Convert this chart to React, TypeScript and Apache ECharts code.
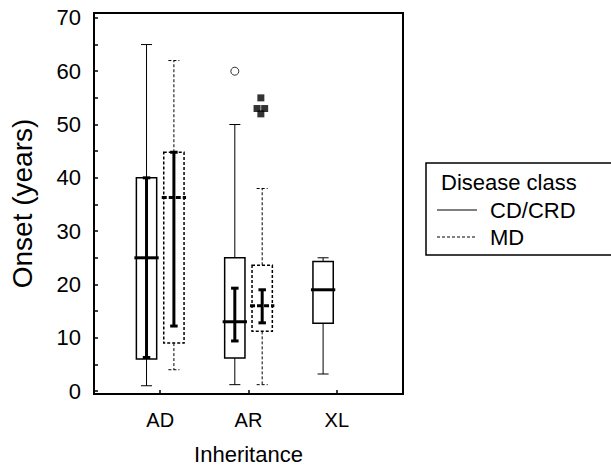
import React, { useEffect, useRef } from "react";
import * as echarts from "echarts";

const categories = ["AD", "AR", "XL"];
// [min, q1, median, q3, max] per category (null = group absent)
const cdBoxes: (number[] | null)[] = [
  [1, 6, 25, 40, 65],
  [1.2, 6.2, 13, 25, 50],
  [3.2, 12.7, 19, 24.3, 25],
];
const mdBoxes: (number[] | null)[] = [
  [4, 9, 36.3, 44.8, 62],
  [1.2, 11.2, 16, 23.6, 38],
  null,
];
// confidence interval of the median [low, high]
const cdCI: (number[] | null)[] = [[6.3, 40], [9.4, 19.3], null];
const mdCI: (number[] | null)[] = [[12.2, 44.8], [12.8, 19], null];
// outliers: [categoryIndex, value]
const cdOutliers = [[1, 60]];
// extremes: [categoryIndex, value, jitter step]
const mdExtremes = [
  [1, 55, 0],
  [1, 53, -1],
  [1, 53, 1],
  [1, 52, 0],
];
const yTicks = [0, 10, 20, 30, 40, 50, 60, 70];
const yMinorTicks = [0, 5, 10, 15, 20, 25, 30, 35, 40, 45, 50, 55, 60, 65, 70];

const OFFSET = 0.155;
const BOX_W = 0.23;
const CAP_W = 0.125;
const CI_CAP_W = 0.085;
const FONT = "'Liberation Sans', Arial, sans-serif";

function makeRender(dashed: boolean) {
  return (params: any, api: any) => {
    const x = api.value(0);
    const vals = [1, 2, 3, 4, 5].map((i) => api.value(i));
    const ciLo = api.value(6);
    const ciHi = api.value(7);
    const [mn, q1, md, q3, mx] = vals;
    const c = (v: number) => api.coord([x, v]);
    const cx = c(md)[0];
    const hb = api.size([BOX_W, 0])[0] / 2;
    const hc = api.size([CAP_W, 0])[0] / 2;
    const hci = api.size([CI_CAP_W, 0])[0] / 2;
    const dash = dashed ? [3, 2] : undefined;
    const thin = { stroke: "#000", lineWidth: 1, lineDash: dash, fill: null };
    const children: any[] = [];
    const line = (x1: number, y1: number, x2: number, y2: number, style: any) =>
      children.push({ type: "line", shape: { x1, y1, x2, y2 }, style });
    const yMin = c(mn)[1], yQ1 = c(q1)[1], yMd = c(md)[1], yQ3 = c(q3)[1], yMx = c(mx)[1];
    line(cx, yQ3, cx, yMx, thin);
    line(cx - hc, yMx, cx + hc, yMx, thin);
    line(cx, yQ1, cx, yMin, thin);
    line(cx - hc, yMin, cx + hc, yMin, thin);
    children.push({
      type: "rect",
      shape: { x: cx - hb, y: yQ3, width: hb * 2, height: yQ1 - yQ3 },
      style: { stroke: "#000", lineWidth: 1.5, lineDash: dash, fill: "rgba(0,0,0,0)" },
    });
    if (!isNaN(ciLo) && !isNaN(ciHi)) {
      const yl = c(ciLo)[1], yh = c(ciHi)[1];
      const thick = { stroke: "#000", lineWidth: 3 };
      line(cx, yl, cx, yh, thick);
      line(cx - hci, yl, cx + hci, yl, thick);
      line(cx - hci, yh, cx + hci, yh, thick);
    }
    line(cx - hb - 2, yMd, cx + hb + 2, yMd, {
      stroke: "#000",
      lineWidth: 3,
      lineDash: dashed ? [5, 2] : undefined,
    });
    return { type: "group", children };
  };
}

function buildData(boxes: (number[] | null)[], cis: (number[] | null)[], off: number) {
  const out: any[] = [];
  boxes.forEach((b, i) => {
    if (!b) return;
    const ci = cis[i];
    out.push([i + 1 + off, ...b, ci ? ci[0] : NaN, ci ? ci[1] : NaN]);
  });
  return out;
}

export default function App() {
  const ref = useRef<HTMLDivElement>(null);
  useEffect(() => {
    if (!ref.current) return;
    const chart = echarts.init(ref.current, null, { renderer: "svg" });
    chart.setOption({
      animation: false,
      backgroundColor: "#fff",
      textStyle: { fontFamily: FONT, color: "#000" },
      grid: {
        left: 93,
        right: 208,
        top: 13,
        bottom: 69,
        show: true,
        borderColor: "#000",
        borderWidth: 2,
      },
      xAxis: {
        type: "value",
        min: 0.25,
        max: 3.75,
        name: "Inheritance",
        nameLocation: "middle",
        nameGap: 49,
        nameTextStyle: { fontSize: 22, fontFamily: FONT, color: "#000" },
        splitLine: { show: false },
        axisLine: { show: true, onZero: false, lineStyle: { color: "#000", width: 2 } },
        axisTick: {
          show: true,
          inside: true,
          length: 4,
          customValues: [1, 2, 3],
          lineStyle: { color: "#000", width: 1.5 },
        },
        axisLabel: {
          customValues: [1, 2, 3],
          formatter: (v: number) => categories[Math.round(v) - 1] ?? "",
          fontSize: 20,
          fontFamily: FONT,
          color: "#000",
          margin: 16,
        },
      },
      yAxis: {
        type: "value",
        min: -0.55,
        max: 70.92,
        name: "Onset (years)",
        nameLocation: "middle",
        nameGap: 58,
        nameTextStyle: { fontSize: 28, fontFamily: FONT, color: "#000" },
        splitLine: { show: false },
        axisLine: { show: true, onZero: false, lineStyle: { color: "#000", width: 2 } },
        axisTick: {
          show: true,
          inside: true,
          length: 4,
          customValues: yMinorTicks,
          lineStyle: { color: "#000", width: 1.5 },
        },
        axisLabel: {
          customValues: yTicks,
          fontSize: 22,
          fontFamily: FONT,
          color: "#000",
          margin: 13,
        },
      },
      series: [
        {
          type: "custom",
          name: "CD/CRD",
          renderItem: makeRender(false),
          data: buildData(cdBoxes, cdCI, -OFFSET),
          encode: { x: 0, y: [1, 2, 3, 4, 5] },
          clip: false,
        },
        {
          type: "custom",
          name: "MD",
          renderItem: makeRender(true),
          data: buildData(mdBoxes, mdCI, OFFSET),
          encode: { x: 0, y: [1, 2, 3, 4, 5] },
          clip: false,
        },
        {
          type: "scatter",
          symbol: "circle",
          symbolSize: 8,
          itemStyle: { color: "#fff", borderColor: "#000", borderWidth: 1 },
          data: cdOutliers.map(([i, v]) => [i + 1 - OFFSET, v]),
        },
        {
          type: "scatter",
          symbol: "rect",
          symbolSize: 7,
          itemStyle: { color: "#000" },
          data: mdExtremes.map(([i, v, j]) => ({
            value: [i + 1 + OFFSET - 0.015, v],
            symbolOffset: [j * 3.8, 0],
          })),
        },
      ],
      graphic: [
        {
          type: "rect",
          shape: { x: 426, y: 163, width: 200, height: 92 },
          style: { fill: "#fff", stroke: "#000", lineWidth: 1.5 },
        },
        {
          type: "text",
          x: 441,
          y: 182,
          style: { text: "Disease class", font: `22px ${FONT}`, fill: "#000", verticalAlign: "middle" },
        },
        {
          type: "line",
          shape: { x1: 437, y1: 210, x2: 477, y2: 210 },
          style: { stroke: "#000", lineWidth: 1 },
        },
        {
          type: "text",
          x: 490,
          y: 210,
          style: { text: "CD/CRD", font: `22px ${FONT}`, fill: "#000", verticalAlign: "middle" },
        },
        {
          type: "line",
          shape: { x1: 437, y1: 237, x2: 477, y2: 237 },
          style: { stroke: "#000", lineWidth: 1, lineDash: [3, 2] },
        },
        {
          type: "text",
          x: 490,
          y: 237,
          style: { text: "MD", font: `22px ${FONT}`, fill: "#000", verticalAlign: "middle" },
        },
      ],
    });
    return () => chart.dispose();
  }, []);
  return <div ref={ref} style={{ width: 611, height: 470, position: "absolute", left: 0, top: 0 }} />;
}
